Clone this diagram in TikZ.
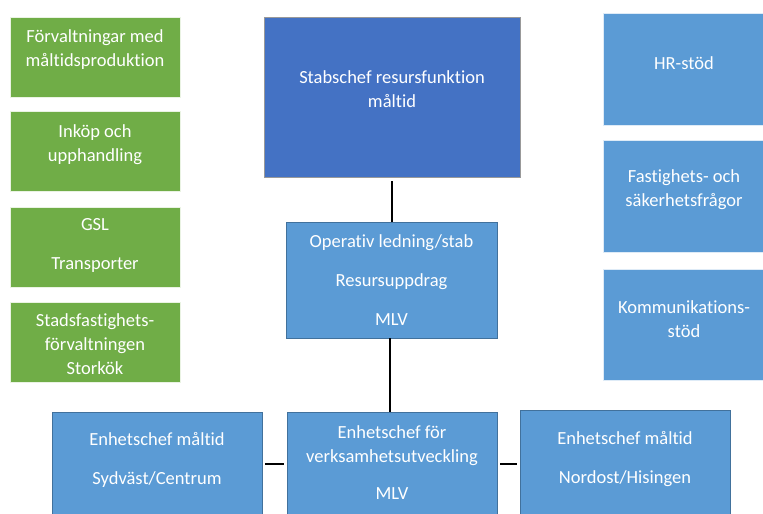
\documentclass[tikz,border=0pt]{standalone}
\usepackage{fontspec}
\setmainfont{Carlito}[Ligatures=NoCommon]
\definecolor{grn}{HTML}{70AD47}
\definecolor{lblue}{HTML}{5B9BD5}
\definecolor{dblue}{HTML}{4472C4}
\definecolor{edgeb}{HTML}{41719C}
\begin{document}
\begin{tikzpicture}[x=1pt,y=-1pt,
  gbox/.style={draw=white!85!grn, line width=0.8pt, fill=grn, inner sep=0pt},
  bbox/.style={draw=white!80!lblue, line width=0.8pt, fill=lblue, inner sep=0pt},
  obox/.style={draw=edgeb, line width=0.9pt, fill=lblue, inner sep=0pt},
  tbox/.style={draw=gray!80, line width=0.9pt, fill=dblue, inner sep=0pt},
  txt/.style={text=white, font=\fontsize{18.5}{24}\selectfont, align=center, inner sep=0pt},
  conn/.style={line width=1.8pt, black}]
\useasboundingbox (0,0) rectangle (763,514);
\clip (0,0) rectangle (763,514);
% green boxes
\node[gbox, minimum width=170, minimum height=80] (g1) at (95,57) {};
\node[gbox, minimum width=170, minimum height=80] (g2) at (95,151) {};
\node[gbox, minimum width=170, minimum height=80] (g3) at (95,247) {};
\node[gbox, minimum width=170, minimum height=80] (g4) at (95,342) {};
\node[txt] (g1t) at (95,50) {Förvaltningar med\\måltidsproduktion};
\node[txt] (g2t) at (95,145) {Inköp och\\upphandling};
\node[txt] (g3t) at (95,245.5) {GSL\\[15pt]Transporter};
\node[txt] (g4t) at (95,344.5) {Stadsfastighets-\\förvaltningen\\Storkök};
% top box
\node[tbox, minimum width=256, minimum height=160] (top) at (392,97) {};
\node[txt] (topt) at (392,89.5) {Stabschef resursfunktion\\måltid};
% operativ
\node[obox, minimum width=211, minimum height=116] (op) at (391.5,280) {};
\node[txt] (opt) at (391.5,280.5) {Operativ ledning/stab\\[15pt]Resursuppdrag\\[15pt]MLV};
% right boxes
\node[bbox, minimum width=162, minimum height=112] (r1) at (684,69) {};
\node[bbox, minimum width=162, minimum height=112] (r2) at (684,196) {};
\node[bbox, minimum width=162, minimum height=111] (r3) at (684,324.5) {};
\node[txt] (r1t) at (684,63) {HR-stöd};
\node[txt] (r2t) at (684,189.5) {Fastighets- och\\säkerhetsfrågor};
\node[txt] (r3t) at (684,319) {Kommunikations-\\stöd};
% bottom boxes
\node[obox, minimum width=210, minimum height=130] (bl) at (157,477) {};
\node[obox, minimum width=210, minimum height=130] (bm) at (392,477) {};
\node[obox, minimum width=210, minimum height=132] (br) at (625,476) {};
\node[txt] (blt) at (157,460) {Enhetschef måltid\\[15pt]Sydväst/Centrum};
\node[txt] (bmt) at (392,463) {Enhetschef för\\verksamhetsutveckling\\[13pt]MLV};
\node[txt] (brt) at (625,459) {Enhetschef måltid\\[15pt]Nordost/Hisingen};
% connectors
\coordinate (c1) at (392,181);
\coordinate (c2) at (390,338);
\draw[conn] (c1) -- (c1 |- op.north);
\draw[conn] (c2) -- (c2 |- bm.north);
\coordinate (h1) at (265,464);
\coordinate (h2) at (284,464);
\coordinate (h3) at (500,464);
\coordinate (h4) at (517,464);
\draw[conn] (h1) -- (h2);
\draw[conn] (h3) -- (h4);
\end{tikzpicture}
\end{document}
